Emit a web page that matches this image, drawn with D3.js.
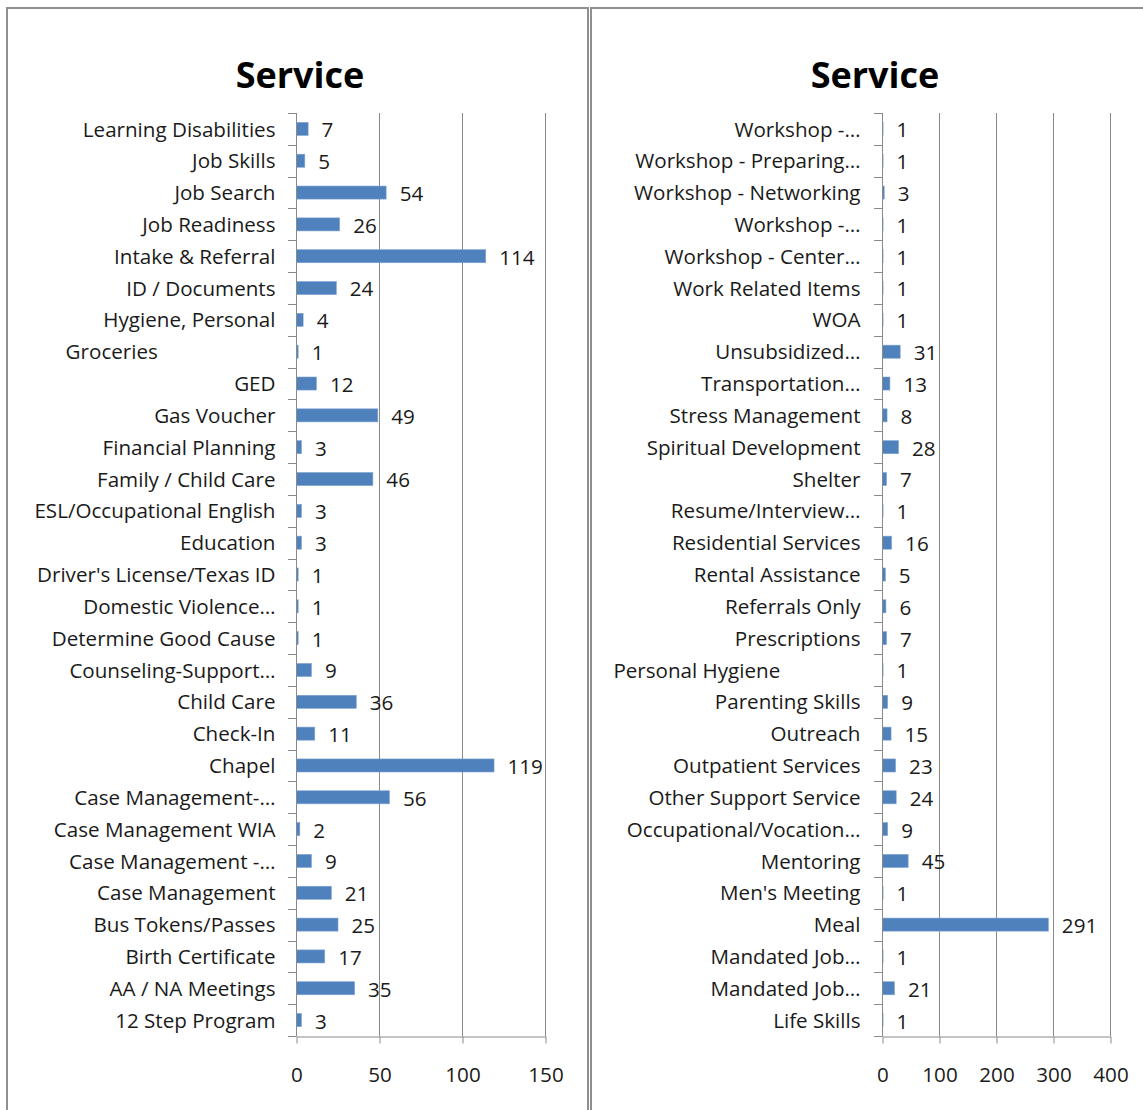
<!DOCTYPE html>
<html><head><meta charset="utf-8">
<script src="https://cdn.jsdelivr.net/npm/d3@7"></script>
<style>
body{margin:0;background:#fff;overflow:hidden}
text{font-family:"Open Sans",sans-serif}
</style>
</head><body><svg id="c" width="1143" height="1110"></svg>
<script>
const chartTitle = "Service";
const leftCategories = ["Learning Disabilities","Job Skills","Job Search","Job Readiness","Intake & Referral","ID / Documents","Hygiene, Personal","Groceries                      ","GED","Gas Voucher","Financial Planning","Family / Child Care","ESL/Occupational English","Education","Driver's License/Texas ID","Domestic Violence…","Determine Good Cause","Counseling-Support…","Child Care","Check-In","Chapel","Case Management-…","Case Management WIA","Case Management -…","Case Management","Bus Tokens/Passes","Birth Certificate","AA / NA Meetings","12 Step Program"];
const leftValues = [7,5,54,26,114,24,4,1,12,49,3,46,3,3,1,1,1,9,36,11,119,56,2,9,21,25,17,35,3];
const leftTicks = [0,50,100,150];
const rightCategories = ["Workshop -…","Workshop - Preparing…","Workshop - Networking","Workshop -…","Workshop - Center…","Work Related Items","WOA","Unsubsidized…","Transportation…","Stress Management","Spiritual Development","Shelter","Resume/Interview…","Residential Services","Rental Assistance","Referrals Only","Prescriptions","Personal Hygiene               ","Parenting Skills","Outreach","Outpatient Services","Other Support Service","Occupational/Vocation…","Mentoring","Men's Meeting","Meal","Mandated Job…","Mandated Job…","Life Skills"];
const rightValues = [1,1,3,1,1,1,1,31,13,8,28,7,1,16,5,6,7,1,9,15,23,24,9,45,1,291,1,21,1];
const rightTicks = [0,100,200,300,400];

const svg = d3.select("#c");
const gridColor = "#8a8a8a";
const fs = 20.6;

function panel(cfg){
  const g = svg.append("g");
  g.append("rect").attr("x",cfg.px).attr("y",8).attr("width",cfg.pw).attr("height",1200)
    .attr("fill","none").attr("stroke","#8f8f8f").attr("stroke-width",2);
  g.append("text").attr("x",cfg.titleX).attr("y",88).attr("text-anchor","middle")
    .attr("font-size",36).attr("font-weight","bold").attr("fill","#000").text(chartTitle);

  const top = 113, bottom = 1036;
  const x = d3.scaleLinear().domain([cfg.ticks[0], cfg.ticks[cfg.ticks.length-1]]).range([cfg.x0, cfg.x1]);
  const y = d3.scaleBand().domain(d3.range(cfg.cats.length)).range([top, bottom]).padding(0);

  g.append("g").selectAll("line").data(cfg.ticks.slice(1)).join("line")
    .attr("x1",d=>x(d)+0.5).attr("x2",d=>x(d)+0.5).attr("y1",top).attr("y2",bottom)
    .attr("stroke",gridColor).attr("stroke-width",1);

  const bh = y.bandwidth()*0.41;
  g.append("g").selectAll("rect").data(cfg.vals).join("rect")
    .attr("x",x(0)+0.5).attr("y",(d,i)=>y(i)+(y.bandwidth()-bh)/2)
    .attr("width",d=>x(d)-x(0)).attr("height",bh)
    .attr("fill","#4f81bd").attr("stroke","#7ea3d2").attr("stroke-width",0.6);

  g.append("g").selectAll("text").data(cfg.vals).join("text")
    .attr("x",d=>x(d)+14).attr("y",(d,i)=>y(i)+y.bandwidth()/2+1)
    .attr("dy","0.36em").attr("font-size",fs).attr("fill","#1a1a1a").text(d=>d);

  const ya = d3.axisLeft(y).tickSize(0).tickPadding(cfg.labelPad).tickFormat(i=>cfg.cats[i]);
  const yg = g.append("g").attr("transform",`translate(${x(0)+0.5},1)`).call(ya);
  yg.select(".domain").attr("stroke",gridColor).attr("d",`M0,${top-1}V${bottom-1}`);
  yg.selectAll("text").attr("font-size",fs).attr("fill","#1a1a1a")
    .style("white-space","pre").attr("font-family","'Open Sans',sans-serif");
  g.append("g").selectAll("line").data(d3.range(cfg.cats.length+1)).join("line")
    .attr("x1",x(0)-8).attr("x2",x(0)+0.5)
    .attr("y1",i=>Math.round(i<cfg.cats.length?y(i):bottom)+0.5)
    .attr("y2",i=>Math.round(i<cfg.cats.length?y(i):bottom)+0.5)
    .attr("stroke",gridColor);

  const xa = d3.axisBottom(x).tickValues(cfg.ticks).tickSize(7).tickPadding(24).tickSizeOuter(0);
  const xg = g.append("g").attr("transform",`translate(0.5,${bottom+0.5})`).call(xa);
  xg.select(".domain").attr("stroke",gridColor);
  xg.selectAll(".tick line").attr("stroke",gridColor);
  xg.selectAll("text").attr("font-size",fs).attr("fill","#1a1a1a").attr("font-family","'Open Sans',sans-serif");
}

panel({px:7,pw:581,titleX:300,x0:296,x1:545,ticks:leftTicks,cats:leftCategories,vals:leftValues,labelPad:21});
panel({px:591,pw:600,titleX:875,x0:882,x1:1110,ticks:rightTicks,cats:rightCategories,vals:rightValues,labelPad:22});
</script>
</body></html>
